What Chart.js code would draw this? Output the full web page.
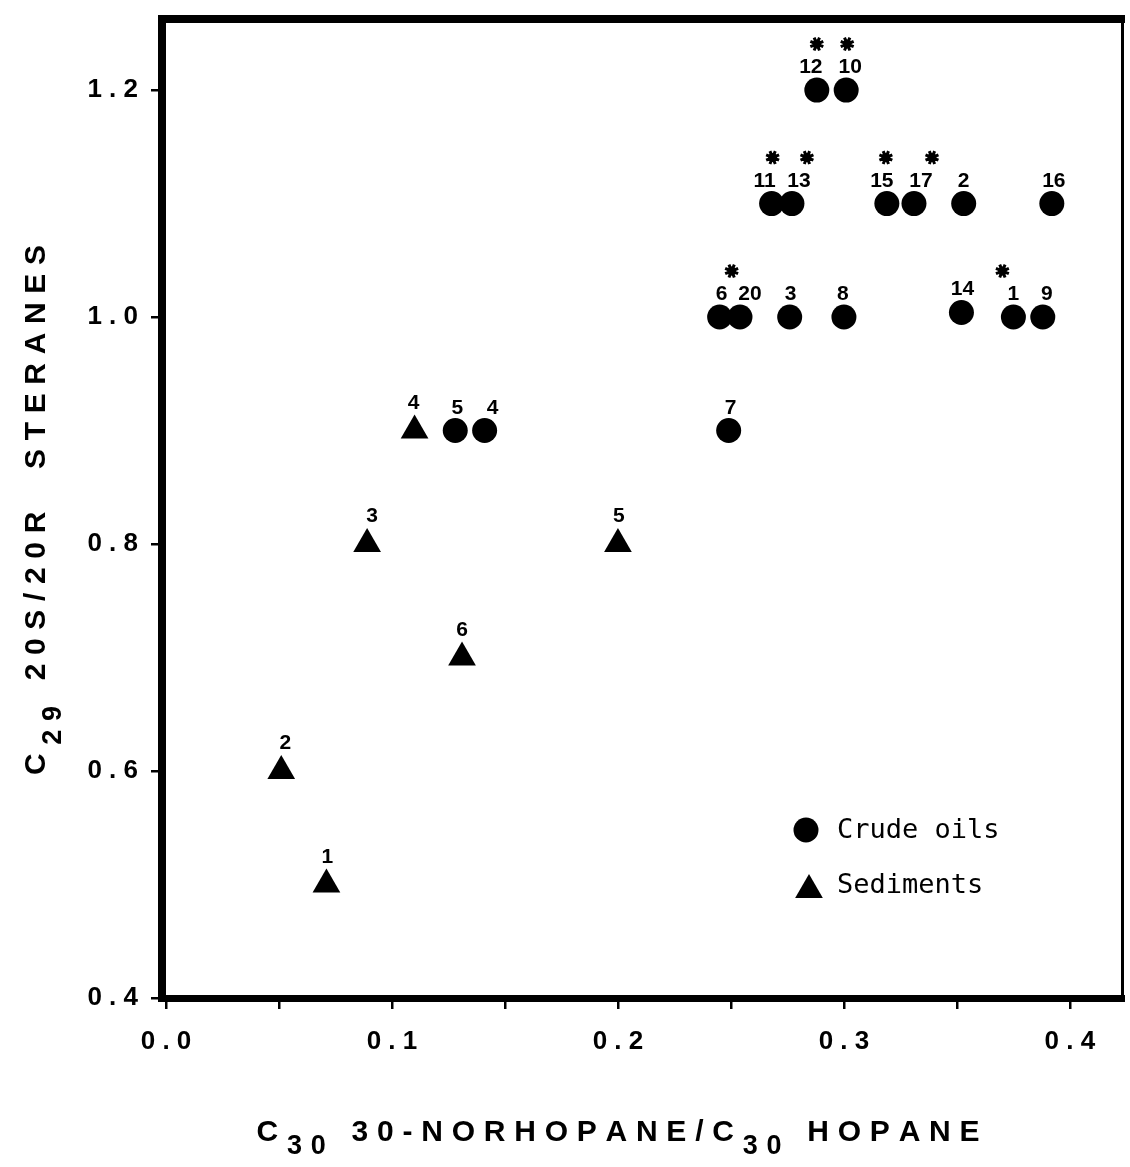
<!DOCTYPE html>
<html>
<head>
<meta charset="utf-8">
<script src="https://cdn.jsdelivr.net/npm/chart.js@4.4.0/dist/chart.umd.min.js"></script>
<style>
  html, body { margin: 0; padding: 0; background: #fff; overflow: hidden; }
  canvas { display: block; }
</style>
</head>
<body>
<canvas id="scatterChart" width="1130" height="1167"></canvas>
<script>
// Crude oils (circles)
const oilLabels = ['1', '2', '3', '4', '5', '6', '7', '8', '9', '10', '11', '12', '13', '14', '15', '16', '17', '20'];
const oilX = [0.375, 0.353, 0.276, 0.141, 0.128, 0.245, 0.249, 0.300, 0.388, 0.301, 0.268, 0.288, 0.277, 0.352, 0.319, 0.392, 0.331, 0.254];
const oilY = [1.0, 1.1, 1.0, 0.9, 0.9, 1.0, 0.9, 1.0, 1.0, 1.2, 1.1, 1.2, 1.1, 1.004, 1.1, 1.1, 1.1, 1.0];
const oilStarred = [true, false, false, false, false, true, false, false, false, true, true, true, true, false, true, false, true, false];

// Sediments (triangles)
const sedLabels = ['1', '2', '3', '4', '5', '6'];
const sedX = [0.071, 0.051, 0.089, 0.110, 0.200, 0.131];
const sedY = [0.5, 0.6, 0.8, 0.9, 0.8, 0.7];

// Axis ticks
const xMajorTicks = [0.0, 0.1, 0.2, 0.3, 0.4];
const xMinorTicks = [0.05, 0.15, 0.25, 0.35];
const yTicks = [0.4, 0.6, 0.8, 1.0, 1.2];

const SANS = '"Liberation Sans", Arial, Helvetica, sans-serif';
const MONO = '"DejaVu Sans Mono", monospace';

// small nudges so the numbers sit like in the print
const oilLabelDx = [0, 0, 1, 8, 2, 2, 2, -1, 4, 4, -7, -6, 7, 1, -5, 2, 7, 10];
const oilStarDx = [-11, 0, 0, 0, 0, 12, 0, 0, 0, 1, 1, 0, 15, 0, -1, 0, 18, 0];
const sedLabelDx = [1, 4, 5, -1, 1, 0];

function spaced(v) {
    return v.toFixed(1).split('').join(' ');
}

function drawStar(ctx, x, y) {
    ctx.beginPath();
    ctx.arc(x, y, 4.5, 0, Math.PI * 2);
    ctx.fill();
    ctx.beginPath();
    ctx.lineWidth = 3;
    for (let k = 0; k < 8; k++) {
        const a = k * Math.PI / 4 + Math.PI / 8;
        ctx.moveTo(x, y);
        ctx.lineTo(x + Math.cos(a) * 7, y + Math.sin(a) * 7);
    }
    ctx.stroke();
}

// draws text made of normal + subscript parts, spread to a given width
function drawRich(ctx, parts, cx, baseline, width, mainFont, subFont, subDrop) {
    let natural = 0, n = 0;
    parts.forEach(p => {
        ctx.font = p.sub ? subFont : mainFont;
        for (const ch of p.t) { natural += ctx.measureText(ch).width; n++; }
    });
    const gap = (width - natural) / (n - 1);
    let x = cx - width / 2;
    ctx.textAlign = 'left';
    ctx.textBaseline = 'alphabetic';
    parts.forEach(p => {
        ctx.font = p.sub ? subFont : mainFont;
        for (const ch of p.t) {
            ctx.fillText(ch, x, baseline + (p.sub ? subDrop : 0));
            x += ctx.measureText(ch).width + gap;
        }
    });
}

function noScalePadding(s) {
    s.paddingTop = 0;
    s.paddingBottom = 0;
    s.paddingLeft = 0;
    s.paddingRight = 0;
}

const decorPlugin = {
    id: 'decor',
    afterDatasetsDraw(chart) {
        const ctx = chart.ctx;
        ctx.save();
        ctx.fillStyle = '#000';
        ctx.strokeStyle = '#000';
        ctx.textAlign = 'center';
        ctx.textBaseline = 'alphabetic';
        ctx.font = 'bold 21px ' + SANS;

        const oilMeta = chart.getDatasetMeta(0);
        oilMeta.data.forEach((pt, i) => {
            ctx.fillText(oilLabels[i], pt.x + oilLabelDx[i], pt.y - 17);
            if (oilStarred[i]) drawStar(ctx, pt.x + oilStarDx[i], pt.y - 46);
        });
        const sedMeta = chart.getDatasetMeta(1);
        sedMeta.data.forEach((pt, i) => {
            ctx.fillText(sedLabels[i], pt.x + sedLabelDx[i], pt.y - 22);
        });
        ctx.restore();
    },
    afterDraw(chart) {
        const ctx = chart.ctx;
        const ca = chart.chartArea;
        ctx.save();
        ctx.fillStyle = '#000';

        // frame: heavy left / top / bottom, thin right
        ctx.fillRect(ca.left - 8, ca.top - 4, 8, ca.bottom - ca.top + 8);
        ctx.fillRect(ca.left - 8, ca.top - 4, ca.right - ca.left + 10, 8);
        ctx.fillRect(ca.left - 8, ca.bottom - 3, ca.right - ca.left + 10, 7);
        ctx.fillRect(ca.right - 2, ca.top - 4, 3, ca.bottom - ca.top + 8);

        // legend inside plot
        const lx = ca.left + 640, ly = ca.top + 811;
        ctx.beginPath();
        ctx.arc(lx, ly, 12.5, 0, Math.PI * 2);
        ctx.fill();
        const tx = lx + 3, ty = ly + 60, r = 16;
        ctx.beginPath();
        ctx.moveTo(tx, ty - r);
        ctx.lineTo(tx + r * Math.sin(2 * Math.PI / 3), ty + r / 2);
        ctx.lineTo(tx - r * Math.sin(2 * Math.PI / 3), ty + r / 2);
        ctx.closePath();
        ctx.fill();
        ctx.font = '27px ' + MONO;
        ctx.textAlign = 'left';
        ctx.textBaseline = 'middle';
        ctx.fillText('Crude oils', lx + 31, ly + 1);
        ctx.fillText('Sediments', lx + 31, ly + 56);

        // axis titles with subscripts
        const mainF = 'bold 30px ' + SANS;
        const subF = 'bold 27px ' + SANS;
        drawRich(ctx, [
            { t: 'C' }, { t: '30', sub: true }, { t: ' 30-NORHOPANE/C' }, { t: '30', sub: true }, { t: ' HOPANE' }
        ], 618, 1141, 723, mainF, subF, 13);

        ctx.translate(45, 510);
        ctx.rotate(-Math.PI / 2);
        drawRich(ctx, [
            { t: 'C' }, { t: '29', sub: true }, { t: ' 20S/20R  STERANES' }
        ], 0, 0, 530, mainF, subF, 16);
        ctx.restore();
    }
};

const ctx = document.getElementById('scatterChart').getContext('2d');
const scatterChart = new Chart(ctx, {
    type: 'scatter',
    data: {
        datasets: [{
            label: 'Crude oils',
            data: oilX.map((x, i) => ({ x: x, y: oilY[i] })),
            pointStyle: 'circle',
            pointRadius: 12.5,
            pointHoverRadius: 12.5,
            backgroundColor: '#000',
            borderColor: '#000',
            borderWidth: 0
        }, {
            label: 'Sediments',
            data: sedX.map((x, i) => ({ x: x, y: sedY[i] })),
            pointStyle: 'triangle',
            pointRadius: 16,
            pointHoverRadius: 16,
            backgroundColor: '#000',
            borderColor: '#000',
            borderWidth: 0
        }]
    },
    options: {
        responsive: false,
        animation: false,
        layout: { autoPadding: false, padding: { top: 19, right: 7, left: 0, bottom: 0 } },
        plugins: {
            legend: { display: false },
            tooltip: { enabled: false }
        },
        scales: {
            x: {
                type: 'linear',
                position: 'bottom',
                min: 0,
                max: 0.4235,
                afterFit: s => { s.height = 169; noScalePadding(s); },
                afterBuildTicks: s => {
                    s.ticks = xMajorTicks.concat(xMinorTicks).sort((a, b) => a - b).map(v => ({ value: v }));
                },
                border: { display: false },
                grid: { drawOnChartArea: false, drawTicks: true, tickLength: 11, color: '#000', lineWidth: 2.5 },
                ticks: {
                    color: '#000',
                    font: { family: SANS, size: 26, weight: 'bold' },
                    padding: 17,
                    maxRotation: 0,
                    autoSkip: false,
                    callback: v => xMajorTicks.some(t => Math.abs(t - v) < 1e-6) ? spaced(v) : ''
                }
            },
            y: {
                min: 0.4,
                max: 1.2626,
                afterFit: s => { s.width = 166; noScalePadding(s); },
                afterBuildTicks: s => { s.ticks = yTicks.map(v => ({ value: v })); },
                border: { display: false },
                grid: { drawOnChartArea: false, drawTicks: true, tickLength: 15, color: '#000', lineWidth: 2.5 },
                ticks: {
                    color: '#000',
                    font: { family: SANS, size: 26, weight: 'bold' },
                    padding: 13,
                    autoSkip: false,
                    callback: v => spaced(v)
                }
            }
        }
    },
    plugins: [decorPlugin]
});
</script>
</body>
</html>
